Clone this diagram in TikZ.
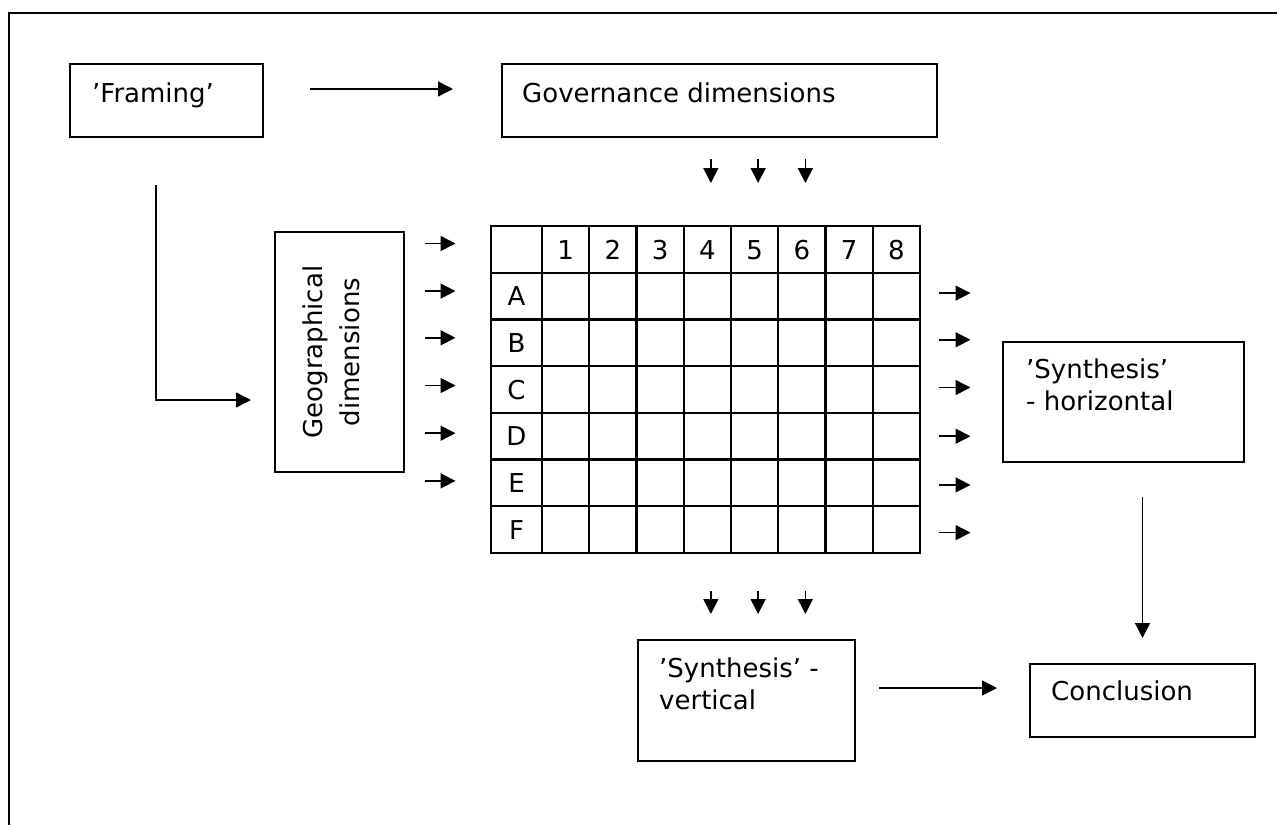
\documentclass[tikz,border=0pt]{standalone}
\usepackage{fontspec}
\setmainfont{DejaVu Sans}
\usepackage{tikz}
\usetikzlibrary{positioning}
\usetikzlibrary{arrows.meta}
\tikzstyle{box} = [rectangle, draw=black, line width=2pt, inner sep=0pt, anchor=north west]
\tikzstyle{lbl} = [inner sep=0pt, anchor=base west, align=left]
\tikzstyle{cell} = [inner sep=0pt, text height=19pt, text depth=0pt]
\tikzstyle{gridln} = [line width=2.4pt]
\tikzstyle{arr} = [line width=1.5pt, -{Triangle[length=15pt,width=15pt]}]

\begin{document}
\begin{tikzpicture}[x=1pt,y=-1pt,font=\fontsize{26}{32}\selectfont]
    \useasboundingbox (0,0) rectangle (1277,825);
    \draw[line width=2pt] (1277,13) -- (9,13) -- (9,825);
    % boxes
    \node (framing) [box, minimum width=193pt, minimum height=73pt] at (69,63) {};
    \node (governance) [box, minimum width=435pt, minimum height=73pt] at (501,63) {};
    \node (geo) [box, minimum width=129pt, minimum height=240pt] at (274,231) {};
    \node (synthh) [box, minimum width=241pt, minimum height=120pt] at (1002,341) {};
    \node (synthv) [box, minimum width=217pt, minimum height=121pt] at (637,639) {};
    \node (concl) [box, minimum width=225pt, minimum height=73pt] at (1029,663) {};
    \node (framingtxt) [lbl] at ([shift={(23,39)}]framing.north west) {’Framing’};
    \node (govtxt) [lbl] at ([shift={(21,39)}]governance.north west) {Governance dimensions};
    \node (synthhtxt) [lbl] at ([shift={(24,69)}]synthh.north west) {’Synthesis’\\- horizontal};
    \node (synthvtxt) [lbl] at ([shift={(22,70)}]synthv.north west) {’Synthesis’ -\\vertical};
    \node (concltxt) [lbl] at ([shift={(22,37)}]concl.north west) {Conclusion};
    \node (geotxt) [rotate=90, align=center] at ([shift={(-8,0)}]geo.center) {Geographical\\[5pt]dimensions};
    % grid
    \draw[gridln] (491,226) rectangle (920,553);
    \foreach \i in {0,...,7}
        \draw[gridln] ({542+47.25*\i},226) -- ++(0,327);
    \foreach \j in {1,...,6}
        \draw[gridln] (491,{226+46.714*\j}) -- ++(429,0);
    \coordinate (rowhd) at (516.5,249.5);
    \foreach \c in {1,...,8}
        \node (col\c) [cell] at ({542+47.25*(\c-0.5)},249.5) {\c};
    \foreach \r [count=\i] in {A,...,F}
        \node (row\r) [cell] at (516.5,{226+46.714*(\i+0.5)}) {\r};
    % arrows
    \draw[arr] ([shift={(46,-11.5)}]framing.east) -- ([shift={(-48,-11.5)}]governance.west);
    \draw[arr] ([shift={(-10.5,47)}]framing.south) |- ([shift={(-23,48)}]geo.west);
    \foreach \c in {4,5,6}
        \draw[arr] ([shift={(3.5,-90.5)}]col\c.center) -- ++(0,24);
    \foreach \r/\dy in {hd/-6,A/-5,B/-5,C/-4,D/-3,E/-2}
        \draw[arr] ([shift={(-92,\dy)}]row\r.center) -- ++(31,0);
    \foreach \r/\dy in {A/-3,B/-3,C/-2,D/0,E/2,F/3}
        \draw[arr] ([shift={(422,\dy)}]row\r.center) -- ++(32,0);
    \foreach \c in {4,5,6}
        \draw[arr] ([shift={(3.5,341.5)}]col\c.center) -- ++(0,23);
    \draw[arr] ([shift={(0,34)}]synthh.south -| concl.north) -- ([shift={(0,-25)}]concl.north);
    \draw[arr] ([shift={(23,-12.5)}]synthv.east) -- ([shift={(-32,-12.5)}]concl.west);
\end{tikzpicture}
\end{document}
